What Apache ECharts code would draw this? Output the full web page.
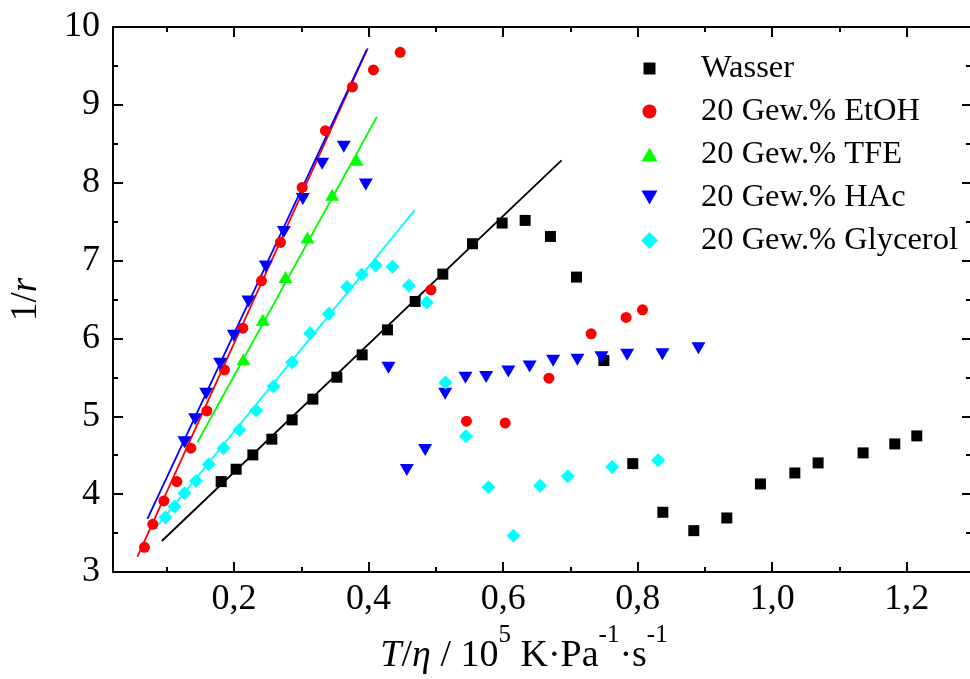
<!DOCTYPE html>
<html>
<head>
<meta charset="utf-8">
<script src="https://cdn.jsdelivr.net/npm/echarts@6/dist/echarts.min.js"></script>
<style>
  html, body { margin: 0; padding: 0; background: #ffffff; overflow: hidden; }
  #chart { width: 970px; height: 679px; }
</style>
</head>
<body>
<div id="chart"></div>
<script>
// Measured points: [T/eta (10^5 K Pa^-1 s^-1), 1/r]
const wasser = [
  [0.1808, 4.161], [0.2031, 4.320], [0.2279, 4.504], [0.2561, 4.706], [0.2863, 4.954],
  [0.3171, 5.220], [0.3528, 5.502], [0.3904, 5.789], [0.4280, 6.110], [0.4692, 6.475],
  [0.5103, 6.826], [0.5544, 7.216], [0.5985, 7.482], [0.6327, 7.516], [0.6703, 7.310],
  [0.7090, 6.788], [0.7497, 5.716], [0.7927, 4.392], [0.8374, 3.767], [0.8834, 3.531],
  [0.9325, 3.694], [0.9825, 4.131], [1.0336, 4.272], [1.0682, 4.401], [1.1351, 4.530],
  [1.1822, 4.645], [1.2149, 4.748]
];
const etoh = [
  [0.0668, 3.317], [0.0792, 3.613], [0.0956, 3.913], [0.1149, 4.161], [0.1357, 4.590],
  [0.1595, 5.069], [0.1857, 5.596], [0.2130, 6.132], [0.2407, 6.740], [0.2689, 7.233],
  [0.3012, 7.940], [0.3358, 8.668], [0.3760, 9.230], [0.4072, 9.448], [0.4469, 9.675],
  [0.4927, 6.625], [0.5455, 4.937], [0.6030, 4.915], [0.6680, 5.490], [0.7308, 6.059],
  [0.7828, 6.269], [0.8071, 6.368]
];
const tfe = [
  [0.2139, 5.734], [0.2427, 6.239], [0.2764, 6.788], [0.3091, 7.297], [0.3458, 7.846],
  [0.3819, 8.296]
];
const hac = [
  [0.1263, 4.667], [0.1421, 4.963], [0.1585, 5.288], [0.1793, 5.674], [0.1996, 6.033],
  [0.2214, 6.475], [0.2472, 6.924], [0.2740, 7.366], [0.3022, 7.790], [0.3309, 8.244],
  [0.3631, 8.463], [0.3958, 7.978], [0.4295, 5.622], [0.4568, 4.311], [0.4840, 4.568],
  [0.5138, 5.288], [0.5440, 5.496], [0.5747, 5.506], [0.6077, 5.575], [0.6394, 5.641],
  [0.6743, 5.712], [0.7104, 5.725], [0.7461, 5.759], [0.7843, 5.789], [0.8368, 5.798],
  [0.8903, 5.875]
];
const glycerol = [
  [0.0980, 3.703], [0.1113, 3.840], [0.1263, 4.011], [0.1436, 4.170], [0.1625, 4.384],
  [0.1842, 4.590], [0.2080, 4.825], [0.2328, 5.073], [0.2585, 5.382], [0.2863, 5.695],
  [0.3131, 6.068], [0.3408, 6.316], [0.3680, 6.659], [0.3899, 6.821], [0.4107, 6.937],
  [0.4354, 6.920], [0.4598, 6.680], [0.4865, 6.462], [0.5142, 5.435], [0.5445, 4.742],
  [0.5781, 4.089], [0.6153, 3.465], [0.6550, 4.107], [0.6961, 4.230], [0.7620, 4.350],
  [0.8304, 4.436]
];

// Linear fits over the low-T/eta range: start and end points of each line
const wasserFit = [[0.0926, 3.398], [0.6867, 8.287]];
const etohFit = [[0.0563, 3.197], [0.3988, 9.730]];
const tfeFit = [[0.1455, 4.667], [0.4122, 8.844]];
const hacFit = [[0.0712, 3.681], [0.3973, 9.710]];
const glycerolFit = [[0.0827, 3.560], [0.4682, 7.644]];

const seriesNames = ['Wasser', '20 Gew.% EtOH', '20 Gew.% TFE', '20 Gew.% HAc', '20 Gew.% Glycerol'];
const seriesColors = ['#000000', '#ff0000', '#00ff00', '#0000ff', '#00ffff'];

// Axis ticks; the frame runs on to x = 1.3, just past the right edge of the canvas
const xMajorTicks = [0.2, 0.4, 0.6, 0.8, 1.0, 1.2];
const xMinorTicks = [0.1, 0.3, 0.5, 0.7, 0.9, 1.1];
const yMin = 3, yMax = 10, yStep = 1;
const xMin = 0.02, xMax = 1.294;

const FONT = '"Liberation Serif", "Times New Roman", serif';
const BLACK = '#000000';

// Marker shapes
const downTriangle = 'path://M0,0L14,0L7,12Z';
const legendIcons = [
  'path://M0,0M17,17M2.5,2.5L14.5,2.5L14.5,14.5L2.5,14.5Z',
  'path://M0,0M17,17M1.5,8.5A7,7 0 1 1 15.5,8.5A7,7 0 1 1 1.5,8.5Z',
  'path://M0,0M17,17M0.5,15.5L16.5,15.5L8.5,1.5Z',
  'path://M0,0M17,17M0.5,1.5L16.5,1.5L8.5,15.5Z',
  'path://M8.5,0L17,8.5L8.5,17L0,8.5Z'
];

const chart = echarts.init(document.getElementById('chart'), null, { renderer: 'canvas' });

const commaFmt = v => v.toFixed(1).replace('.', ',');
function frameLine(show) {
  return { show: show, onZero: false, lineStyle: { color: BLACK, width: 2 } };
}

function xAxisDef(position, ticks, len, withLine, withLabels) {
  const ax = {
    type: 'value', position: position, min: xMin, max: xMax, gridIndex: 0,
    axisLine: frameLine(withLine),
    axisTick: { show: true, inside: true, length: len, customValues: ticks,
      lineStyle: { color: BLACK, width: 2 } },
    axisLabel: { show: false },
    splitLine: { show: false }
  };
  if (withLabels) {
    ax.axisLabel = {
      show: true, customValues: ticks, formatter: commaFmt, margin: 10,
      fontFamily: FONT, fontSize: 36, color: BLACK
    };
    ax.name = '{m|}{it|T}{m|/}{it|η}{m| / 10}{sup|5}{m| K·Pa}{sup|-1}{m|·s}{sup|-1}';
    ax.nameLocation = 'middle';
    ax.nameGap = 46;
    ax.nameTextStyle = {
      fontFamily: FONT, fontSize: 38, color: BLACK, padding: [0, 35, 0, 0],
      rich: {
        m: { fontFamily: FONT, fontSize: 38, lineHeight: 40, color: BLACK },
        it: { fontFamily: FONT, fontSize: 38, lineHeight: 40, fontStyle: 'italic', color: BLACK },
        sup: { fontFamily: FONT, fontSize: 25, lineHeight: 24, color: BLACK, padding: [0, 0, 42, 0] }
      }
    };
  }
  return ax;
}

function yAxisDef(position, withLabels) {
  const ax = {
    type: 'value', position: position, min: yMin, max: yMax, interval: yStep, gridIndex: 0,
    axisLine: frameLine(withLabels),
    axisTick: { show: true, inside: true, length: withLabels ? 10 : 8,
      lineStyle: { color: BLACK, width: 2 } },
    minorTick: { show: true, splitNumber: 2, length: withLabels ? 5 : 4,
      lineStyle: { color: BLACK, width: 2 } },
    axisLabel: { show: false },
    splitLine: { show: false },
    minorSplitLine: { show: false }
  };
  if (withLabels) {
    ax.axisLabel = { show: true, margin: 13, fontFamily: FONT, fontSize: 36, color: BLACK };
    ax.name = '1/{it|r}';
    ax.nameLocation = 'middle';
    ax.nameGap = 68;
    ax.nameTextStyle = {
      fontFamily: FONT, fontSize: 37, color: BLACK,
      rich: { it: { fontFamily: FONT, fontSize: 37, fontStyle: 'italic', color: BLACK } }
    };
  }
  return ax;
}

const scatterData = [wasser, etoh, tfe, hac, glycerol];
const fitData = [wasserFit, etohFit, tfeFit, hacFit, glycerolFit];
const symbols = ['rect', 'circle', 'triangle', downTriangle, 'diamond'];
const symbolSizes = [11, 11, [14, 12], [14, 12], [14, 14]];

const series = [];
fitData.forEach((d, i) => {
  series.push({
    name: seriesNames[i] + ' (Fit)', type: 'line', data: d, xAxisIndex: 0, yAxisIndex: 0,
    showSymbol: false, symbol: 'none', silent: true, z: 2,
    lineStyle: { color: seriesColors[i], width: 1.8 }
  });
});
scatterData.forEach((d, i) => {
  series.push({
    name: seriesNames[i], type: 'scatter', data: d, xAxisIndex: 0, yAxisIndex: 0,
    symbol: symbols[i], symbolSize: symbolSizes[i], z: 3,
    itemStyle: { color: seriesColors[i], opacity: 1 }
  });
});

chart.setOption({
  animation: false,
  backgroundColor: '#ffffff',
  grid: { left: 113, right: 0, top: 27, bottom: 107, containLabel: false, outerBoundsMode: 'none' },
  xAxis: [
    xAxisDef('bottom', xMajorTicks, 10, true, true),
    xAxisDef('bottom', xMinorTicks, 5, false, false),
    xAxisDef('top', xMajorTicks, 10, true, false),
    xAxisDef('top', xMinorTicks, 5, false, false)
  ],
  yAxis: [yAxisDef('left', true), yAxisDef('right', false)],
  legend: {
    orient: 'vertical', left: 636, top: 47, padding: 5,
    itemWidth: 17, itemHeight: 17, itemGap: 10,
    symbolKeepAspect: true,
    textStyle: { fontFamily: FONT, fontSize: 32.5, color: BLACK, lineHeight: 30, padding: [0, 0, 0, 38] },
    data: seriesNames.map((n, i) => ({ name: n, icon: legendIcons[i] }))
  },
  series: series
});
</script>
</body>
</html>
